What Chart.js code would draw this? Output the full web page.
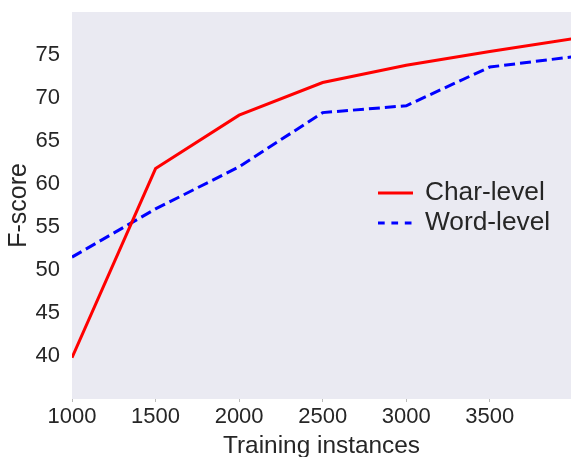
<!DOCTYPE html>
<html>
<head>
<meta charset="utf-8">
<script src="https://cdn.jsdelivr.net/npm/chart.js@4/dist/chart.umd.min.js"></script>
<style>
  html, body { margin: 0; padding: 0; background: #ffffff; }
  #chart { display: block; }
</style>
</head>
<body>
<canvas id="chart" width="571" height="457"></canvas>
<script>
// Data
const trainingSizes = [1000, 1500, 2000, 2500, 3000, 3500, 4000]
const charLevel = [39.8, 61.8, 68.0, 71.8, 73.8, 75.4, 76.9]
const wordLevel = [51.5, 57.1, 62.0, 68.3, 69.1, 73.6, 74.8]
const xTicks = [1000, 1500, 2000, 2500, 3000, 3500]
const yTicks = [40, 45, 50, 55, 60, 65, 70, 75]
const seriesNames = ["Char-level", "Word-level"]

const FONT = "'Liberation Sans', Arial, sans-serif"
const TEXT = "#262626"

const toPoints = (vals) => trainingSizes.map((x, i) => ({ x: x, y: vals[i] }))

// grey plot background (seaborn style)
const plotBg = {
  id: "plotBg",
  beforeDraw: (chart) => {
    const { ctx, chartArea } = chart
    ctx.save()
    ctx.fillStyle = "#eaeaf2"
    ctx.fillRect(chartArea.left, chartArea.top, chartArea.right - chartArea.left, chartArea.bottom - chartArea.top)
    ctx.restore()
  },
}

// legend drawn inside the plot, right middle
const innerLegend = {
  id: "innerLegend",
  afterDraw: (chart) => {
    const { ctx } = chart
    ctx.save()
    chart.data.datasets.forEach((ds, i) => {
      const y = 193 + i * 30
      ctx.strokeStyle = ds.borderColor
      ctx.lineWidth = ds.borderWidth
      ctx.setLineDash(ds.borderDash ? [6.7, 6.7] : [])
      ctx.beginPath()
      ctx.moveTo(378, y)
      ctx.lineTo(413, y)
      ctx.stroke()
      ctx.setLineDash([])
      ctx.fillStyle = TEXT
      ctx.font = "26.3px " + FONT
      ctx.textBaseline = "middle"
      ctx.textAlign = "left"
      ctx.fillText(ds.label, 425, y)
    })
    ctx.restore()
  },
}

new Chart(document.getElementById("chart"), {
  type: "line",
  data: {
    datasets: [
      {
        label: seriesNames[0],
        data: toPoints(charLevel),
        borderColor: "#ff0000",
        borderWidth: 3,
        pointRadius: 0,
        tension: 0,
        fill: false,
      },
      {
        label: seriesNames[1],
        data: toPoints(wordLevel),
        borderColor: "#0000ff",
        borderWidth: 3,
        borderDash: [11, 5],
        pointRadius: 0,
        tension: 0,
        fill: false,
      },
    ],
  },
  options: {
    responsive: false,
    animation: false,
    layout: { padding: { top: 12, right: 0, left: 0, bottom: 0 } },
    plugins: {
      legend: { display: false },
      tooltip: { enabled: false },
    },
    scales: {
      x: {
        type: "linear",
        min: 1000,
        max: 3986, // the figure is cropped just short of 4000
        afterBuildTicks: (scale) => {
          scale.ticks = xTicks.map((v) => ({ value: v }))
        },
        afterFit: (scale) => {
          scale.height = 58
          scale.paddingLeft = 0
          scale.paddingRight = 0
        },
        border: { display: false },
        grid: { display: true, drawOnChartArea: false, tickLength: 3, color: "#bbbbbb" },
        ticks: {
          color: TEXT,
          padding: 2,
          maxRotation: 0,
          font: { family: FONT, size: 22 },
          callback: (value) => String(value),
        },
        title: {
          display: true,
          text: "Training instances",
          color: TEXT,
          font: { family: FONT, size: 24.4, lineHeight: 1 },
          padding: { top: 0, bottom: -1 },
        },
      },
      y: {
        min: 35,
        max: 80,
        afterBuildTicks: (scale) => {
          scale.ticks = yTicks.map((v) => ({ value: v }))
        },
        afterFit: (scale) => {
          scale.width = 72
          scale.paddingTop = 0
          scale.paddingBottom = 0
        },
        border: { display: false },
        grid: { display: false },
        ticks: {
          color: TEXT,
          padding: 4,
          font: { family: FONT, size: 22 },
          callback: (value) => String(value),
        },
        title: {
          display: true,
          text: "F-score",
          color: TEXT,
          font: { family: FONT, size: 25, lineHeight: 1 },
          padding: { top: 7, bottom: 0 },
        },
      },
    },
  },
  plugins: [plotBg, innerLegend],
})
</script>
</body>
</html>
